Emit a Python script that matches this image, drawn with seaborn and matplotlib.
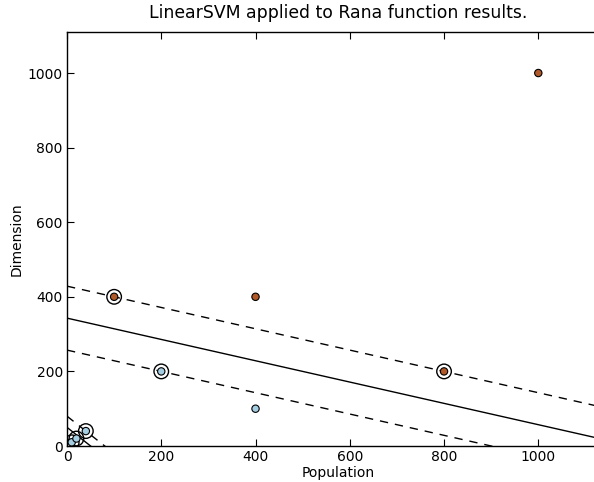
import numpy as np
import pandas as pd
import matplotlib
matplotlib.use("Agg")
import matplotlib.pyplot as plt
import seaborn as sns

# Experiment results: population size vs. dimension, labelled by class
population = [10, 20, 40, 200, 400, 100, 400, 800, 1000]
dimension = [10, 20, 40, 200, 100, 400, 400, 200, 1000]
label = [0, 0, 0, 0, 0, 1, 1, 1, 1]

# Support vectors found by the classifiers
sv_population = [10, 20, 40, 100, 200, 800]
sv_dimension = [10, 20, 40, 400, 200, 200]

# Separating hyperplanes  w0*x + w1*y + b = 0  and their margin offsets
planes_w = [(2.0, 7.0), (1.0, 1.0)]
planes_b = [-2400.0, -50.0]
planes_margin = [600.0, 30.0]

sns.set_theme(style="white")
plt.rcParams["font.family"] = ["DejaVu Sans"]
plt.rcParams["text.color"] = "black"
plt.rcParams["axes.labelcolor"] = "black"

fig = plt.figure(figsize=(5.94, 4.82), dpi=100)
ax = fig.add_axes([67 / 594, 36 / 482, 542 / 594, 414 / 482])

df = pd.DataFrame({"Population": population, "Dimension": dimension, "label": label})
palette = {0: "#a6cee3", 1: "#b15928"}

# Margin circles around the support vectors
ax.scatter(sv_population, sv_dimension, s=110, facecolors="none",
           edgecolors="black", linewidths=1.0, zorder=3)

sns.scatterplot(data=df, x="Population", y="Dimension", hue="label",
                palette=palette, s=28, edgecolor="black", linewidth=0.8,
                legend=False, ax=ax, zorder=4)

xx = np.linspace(0, 1200, 50)
for (w0, w1), b, m in zip(planes_w, planes_b, planes_margin):
    sns.lineplot(x=xx, y=(-w0 * xx - b) / w1, color="black", lw=1.0, ax=ax)
    for off in (m, -m):
        sns.lineplot(x=xx, y=(-w0 * xx - b + off) / w1, color="black", lw=1.0,
                     linestyle=(0, (6, 5)), ax=ax)

ax.set_xlim(0, 1150)
ax.set_ylim(0, 1110)
ax.set_xticks([0, 200, 400, 600, 800, 1000])
ax.set_yticks([0, 200, 400, 600, 800, 1000])
ax.tick_params(direction="in", length=5, width=0.8, top=True, right=True,
               bottom=True, left=True, labelsize=10, colors="black", pad=3)
for sp in ax.spines.values():
    sp.set_color("black")
    sp.set_linewidth(1.0)

ax.set_xlabel("Population", fontsize=10, labelpad=1)
ax.set_ylabel("Dimension", fontsize=10, labelpad=3)
ax.set_title("LinearSVM applied to Rana function results.", fontsize=12.4,
             pad=10, color="black")

fig.savefig("out.png", dpi=100)
